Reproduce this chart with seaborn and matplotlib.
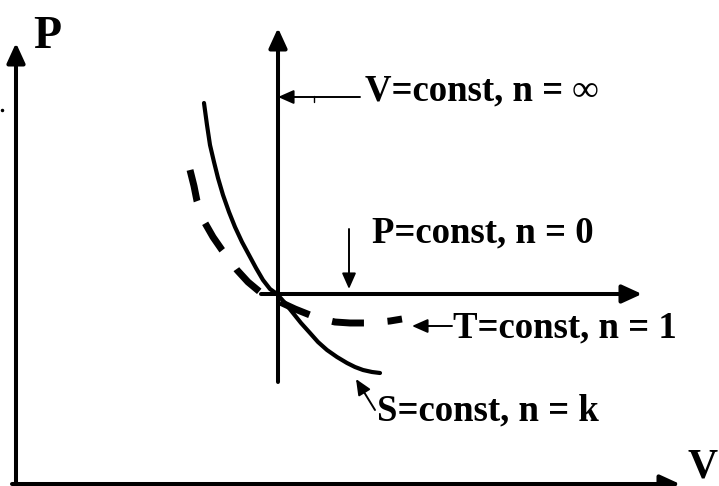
import seaborn as sns
import matplotlib.pyplot as plt

# Points (pixel space, y grows downward)
adiabat_x = [204, 207, 210, 214, 218, 223, 229, 235, 242, 249, 256, 263, 270, 277,
             285, 293, 301, 310, 318, 327, 337, 347, 355, 363, 372, 380]
adiabat_y = [103, 125, 145, 162, 178, 195, 212, 227, 242, 255, 268, 280, 289, 294,
             303, 313, 323, 333, 342, 350, 357, 363, 367, 370, 372, 373]

isotherm_x = [190, 194, 197, 201, 205, 213, 222, 230, 237, 248, 260, 270, 280,
              295, 310, 322, 335, 350, 365, 380, 390, 402]
isotherm_y = [170, 186, 201, 212, 223, 237, 250, 260, 270, 282, 292, 298, 302,
              309, 315, 319, 322, 323, 323, 322, 321, 319]

# axis arrows: (tail, tip)
outer_axes = [((16, 486), (16, 43)), ((12, 484), (680, 484))]
inner_axes = [((278, 382), (278, 28)), ((261, 294), (642, 294))]

# labels: text, anchor point, arrow tail, arrow tip
labels = ["V=const, n = \u221e", "P=const, n = 0", "T=const, n = 1", "S=const, n = k"]
label_pos = [(365, 100), (372, 242), (453, 337), (377, 420)]
pointer_tail = [(360, 97), (349, 229), (452, 326), (375, 410)]
pointer_tip = [(278, 97), (349, 289), (412, 326), (356, 379)]

sns.set_style("white")
fig = plt.figure(figsize=(7.19, 4.86), dpi=100)
ax = fig.add_axes([0, 0, 1, 1])

sns.lineplot(x=adiabat_x, y=adiabat_y, sort=False, estimator=None,
             color="black", lw=3.0, ax=ax)
sns.lineplot(x=isotherm_x, y=isotherm_y, sort=False, estimator=None,
             color="black", lw=5.0, linestyle=(0, (4.6, 3.4)), ax=ax)

big_head = dict(arrowstyle="-|>,head_length=1.2,head_width=0.55", mutation_scale=10,
                color="black", lw=2.9, shrinkA=0, shrinkB=0)
for tail, tip in outer_axes + inner_axes:
    ax.annotate("", xy=tip, xytext=tail, arrowprops=big_head)

small_head = dict(arrowstyle="-|>,head_length=0.95,head_width=0.42", mutation_scale=10,
                  color="black", lw=1.4, shrinkA=0, shrinkB=0)
serif = ["Liberation Serif", "DejaVu Serif"]
for txt, pos, tail, tip in zip(labels, label_pos, pointer_tail, pointer_tip):
    ax.annotate("", xy=tip, xytext=tail, arrowprops=small_head)
    ax.text(pos[0], pos[1], txt, fontsize=26.5, fontweight="bold", family=serif,
            color="black", ha="left", va="baseline")

# little tick on the V=const pointer and the stray dot at the left edge
ax.plot([314, 314], [96, 102], color="black", lw=1.0)
ax.plot([2], [110], marker="o", ms=1.5, color="black")

ax.text(33, 48, "P", fontsize=33, fontweight="bold", family=serif, color="black",
        ha="left", va="baseline")
ax.text(687, 477, "V", fontsize=30, fontweight="bold", family=serif, color="black",
        ha="left", va="baseline")

ax.set_xlim(0, 719)
ax.set_ylim(486, 0)
ax.axis("off")

fig.savefig("out.png", dpi=100)
